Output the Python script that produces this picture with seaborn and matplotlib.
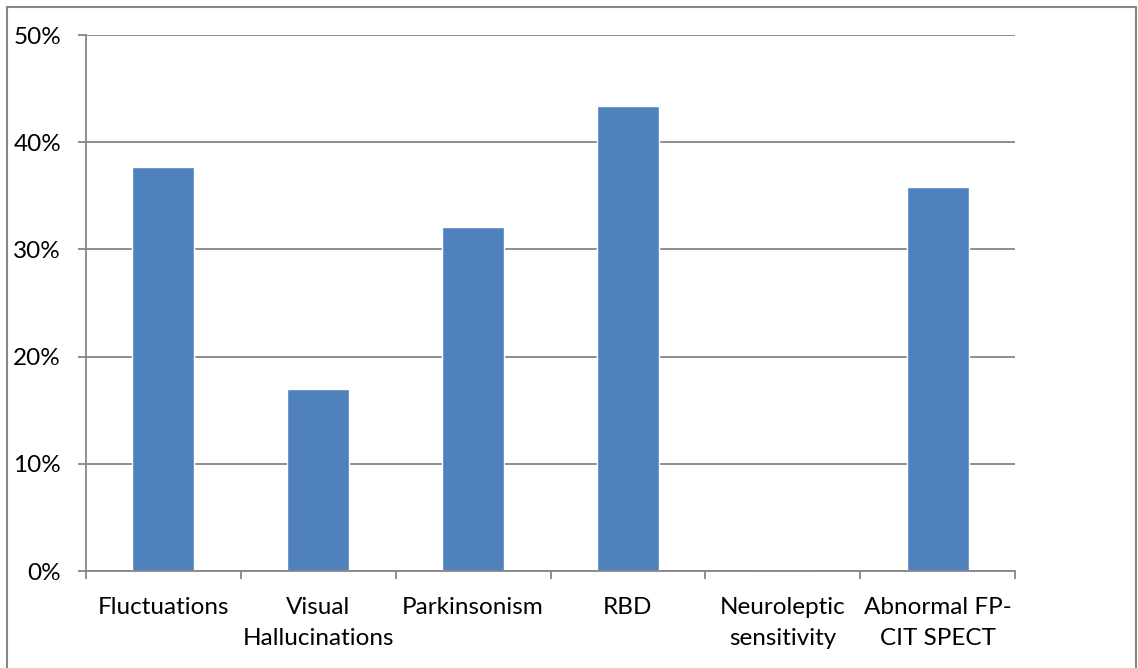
import matplotlib
matplotlib.use("Agg")
import matplotlib.pyplot as plt
from matplotlib.lines import Line2D
from matplotlib.ticker import PercentFormatter, FixedLocator
import seaborn as sns
import pandas as pd

# Proportion of patients presenting each feature
features = ["Fluctuations", "Visual\nHallucinations", "Parkinsonism", "RBD",
            "Neuroleptic\nsensitivity", "Abnormal FP-\nCIT SPECT"]
percentages = [37.7, 17.0, 32.1, 43.4, 0.0, 35.8]
y_ticks = [0, 10, 20, 30, 40, 50]

bar_color = "#4F81BD"
axis_gray = "#868686"

sns.set_style("white")
plt.rcParams["font.family"] = ["Lato", "DejaVu Sans"]

df = pd.DataFrame({"feature": features, "pct": percentages})

fig = plt.figure(figsize=(11.38, 6.68), dpi=100)
ax = fig.add_axes([86 / 1138, 1 - 571 / 668, (1015 - 86) / 1138, (571 - 35) / 668])

sns.barplot(data=df, x="feature", y="pct", color=bar_color, saturation=1,
            width=0.4, ax=ax, zorder=3)

ax.set_ylim(0, 50)
ax.set_xlim(-0.5, len(features) - 0.5)
ax.set_yticks(y_ticks)
ax.yaxis.set_major_formatter(PercentFormatter(decimals=0))
ax.set_xlabel("")
ax.set_ylabel("")

# horizontal gridlines
ax.yaxis.grid(True, color=axis_gray, linewidth=1.3, zorder=0)
ax.xaxis.grid(False)
ax.set_axisbelow(True)

for side in ("top", "right"):
    ax.spines[side].set_visible(False)
for side in ("left", "bottom"):
    ax.spines[side].set_color(axis_gray)
    ax.spines[side].set_linewidth(1.3)
    ax.spines[side].set_zorder(4)

# category boundary ticks on the x axis
ax.xaxis.set_minor_locator(FixedLocator([i - 0.5 for i in range(len(features) + 1)]))
ax.tick_params(axis="x", which="minor", bottom=True, length=6, width=1.3,
               color=axis_gray, direction="out")
ax.tick_params(axis="x", which="major", bottom=True, length=0, pad=19,
               labelsize=17.5, labelcolor="black")
ax.tick_params(axis="y", which="major", left=True, length=6, width=1.3, color=axis_gray,
               direction="out", pad=12, labelsize=17.5, labelcolor="black")
for lbl in ax.get_xticklabels():
    lbl.set_linespacing(1.56)

# chart frame
frame_kw = dict(color=axis_gray, linewidth=1.5, transform=fig.transFigure, clip_on=False)
l, r, t = 6.5 / 1138, 1136 / 1138, 1 - 6.5 / 668
fig.add_artist(Line2D([l, l], [0, t], **frame_kw))
fig.add_artist(Line2D([l, r], [t, t], **frame_kw))
fig.add_artist(Line2D([r, r], [0, t], **frame_kw))

fig.savefig("out.png", dpi=100)
